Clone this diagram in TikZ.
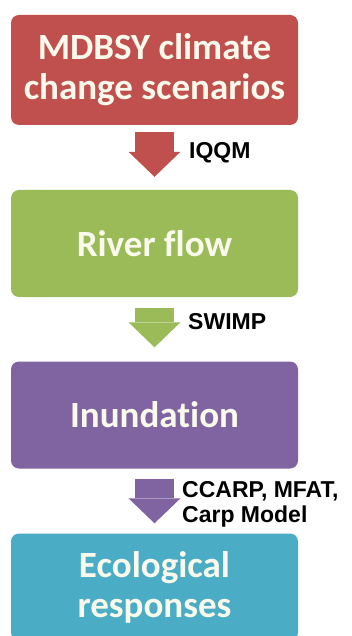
\documentclass[tikz,border=0pt]{standalone}
\usepackage{fontspec}
\setmainfont{Carlito}[Ligatures=NoCommon]
\newfontfamily\labelfont{Liberation Sans}
\usetikzlibrary{calc, positioning}
\usetikzlibrary{arrows.meta}

\definecolor{scenred}{HTML}{C0504D}
\definecolor{flowgreen}{HTML}{9BBB59}
\definecolor{inunpurple}{HTML}{8064A2}
\definecolor{ecoteal}{HTML}{4BACC6}
\definecolor{boxtext}{RGB}{250,250,236}

\begin{document}
\begin{tikzpicture}[x=1pt,y=-1pt,
  stagebox/.style={fill=#1, rounded corners=8pt, minimum width=287pt,
    minimum height=107pt, inner sep=0pt, text=boxtext, align=center,
    font=\fontsize{37}{40}\selectfont\bfseries},
  flowarrow/.style={draw=#1, line width=39pt,
    -{Triangle[width=52pt, length=25pt, line width=0pt]}},
  toollabel/.style={anchor=west, inner sep=0pt, align=left,
    font=\fontsize{23}{25}\selectfont\labelfont\bfseries}]
\clip (0,0) rectangle (352,636);
\fill[white] (0,0) rectangle (352,636);

% Stages of the model chain
\node[stagebox=scenred, minimum height=110pt] (scen) at (154.5,70) {MDBSY climate\\change scenarios};
\node[stagebox=flowgreen] (flow) at (154.5,243.5) {River flow};
\node[stagebox=inunpurple] (inun) at (154.5,415) {Inundation};
\node[stagebox=ecoteal] (eco) at (154.5,587) {\fontsize{37}{37}\selectfont Ecological\\responses};

% Block arrows between stages
\draw[flowarrow=scenred] ([yshift=-7pt]scen.south) -- ([yshift=13pt]flow.north);
\draw[flowarrow=flowgreen] ([yshift=-11pt]flow.south) -- ([yshift=14pt]inun.north);
\draw[flowarrow=inunpurple] ([yshift=-10pt]inun.south) -- ([yshift=10pt]eco.north);

% Model labels
\node[toollabel] (iqqm) at (189,153) {IQQM};
\node[toollabel] (swimp) at (188,322) {SWIMP};
\node[toollabel] (ccarp) at (182,504) {CCARP, MFAT,\\Carp Model};
\end{tikzpicture}
\end{document}
